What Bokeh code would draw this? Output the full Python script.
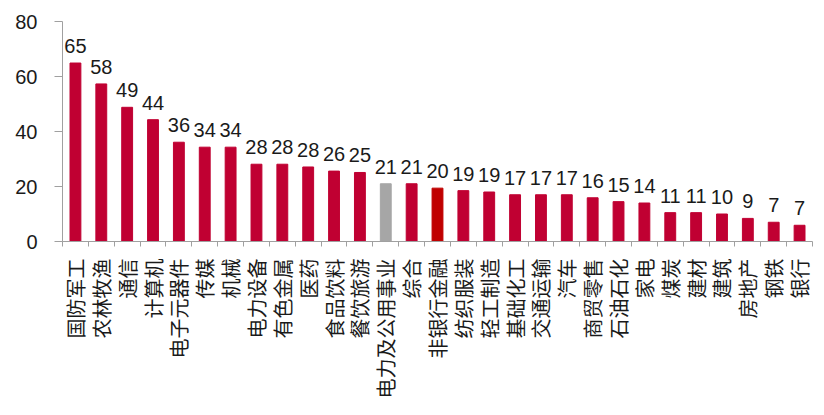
import math
from bokeh.plotting import figure
from bokeh.models import (Range1d, LinearAxis, FixedTicker, ColumnDataSource,
                          CustomJSTickFormatter)
from bokeh.core.properties import value
from bokeh.embed import file_html
from bokeh.resources import INLINE

categories = ["国防军工", "农林牧渔", "通信", "计算机", "电子元器件", "传媒", "机械",
              "电力设备", "有色金属", "医药", "食品饮料", "餐饮旅游", "电力及公用事业",
              "综合", "非银行金融", "纺织服装", "轻工制造", "基础化工", "交通运输", "汽车",
              "商贸零售", "石油石化", "家电", "煤炭", "建材", "建筑", "房地产", "钢铁", "银行"]
heights = [64.9, 57.3, 48.8, 44.3, 36.1, 34.3, 34.3, 28.1, 28.1, 27.1, 25.6, 25.1, 21.0,
           21.0, 19.4, 18.5, 18.0, 17.0, 17.0, 17.0, 15.9, 14.5, 14.0, 10.5, 10.5, 10.0,
           8.4, 7.0, 5.9]
labels = ["65", "58", "49", "44", "36", "34", "34", "28", "28", "28", "26", "25", "21",
          "21", "20", "19", "19", "17", "17", "17", "16", "15", "14", "11", "11", "10",
          "9", "7", "7"]
y_ticks = [0, 20, 40, 60, 80]

RED = "#C00032"
GREY = "#A6A6A6"
DARK = "#C00000"
special = {"电力及公用事业": GREY, "非银行金融": DARK}
colors = [special.get(c, RED) for c in categories]

n = len(categories)
xs = [i + 0.5 for i in range(n)]
src = ColumnDataSource(dict(x=xs, cat=categories, h=heights, lab=labels, color=colors))

p = figure(width=824, height=415,
           x_range=Range1d(0, n),
           y_range=Range1d(0, 80),
           output_backend="svg", toolbar_location=None,
           x_axis_location=None, y_axis_location=None,
           min_border_left=62, min_border_right=12,
           min_border_top=21, min_border_bottom=174)
p.outline_line_color = None
p.grid.visible = False
p.background_fill_color = "white"
p.border_fill_color = "white"

AX = "#A0A0A0"
TXT = "#1a1a1a"

yaxis = LinearAxis(ticker=FixedTicker(ticks=y_ticks),
                   major_tick_out=8, major_tick_in=0,
                   minor_tick_line_color=None,
                   axis_line_color=AX, major_tick_line_color=AX,
                   major_label_text_font="Liberation Sans",
                   major_label_text_font_size="20px",
                   major_label_text_color=TXT,
                   major_label_standoff=17)
p.add_layout(yaxis, "left")

tick_axis = LinearAxis(ticker=FixedTicker(ticks=list(range(n + 1))),
                       major_label_overrides={i: "" for i in range(n + 1)},
                       major_label_text_font_size="1px",
                       major_label_standoff=0,
                       major_tick_out=5, major_tick_in=0,
                       minor_tick_line_color=None,
                       axis_line_color=AX, major_tick_line_color=AX)
p.add_layout(tick_axis, "below")

label_axis = LinearAxis(ticker=FixedTicker(ticks=xs),
                        formatter=CustomJSTickFormatter(
                            args=dict(names=categories),
                            code="return names[Math.round(tick - 0.5)];"),
                        major_label_orientation=math.pi / 2,
                        axis_line_color=None, major_tick_line_color=None,
                        minor_tick_line_color=None,
                        major_tick_out=0, major_tick_in=0,
                        major_label_standoff=12,
                        major_label_text_font="Noto Sans CJK SC",
                        major_label_text_font_size="20px",
                        major_label_text_color=TXT)
p.add_layout(label_axis, "below")

p.vbar(x="x", top="h", width=0.42, fill_color="color", line_color="color", source=src)
p.text(x="x", y="h", text="lab", text_align="center", text_baseline="alphabetic",
       y_offset=-17, text_font=value("Liberation Sans"), text_font_size="20px",
       text_color=TXT, source=src)

open("out.html", "w").write(file_html(p, INLINE))
